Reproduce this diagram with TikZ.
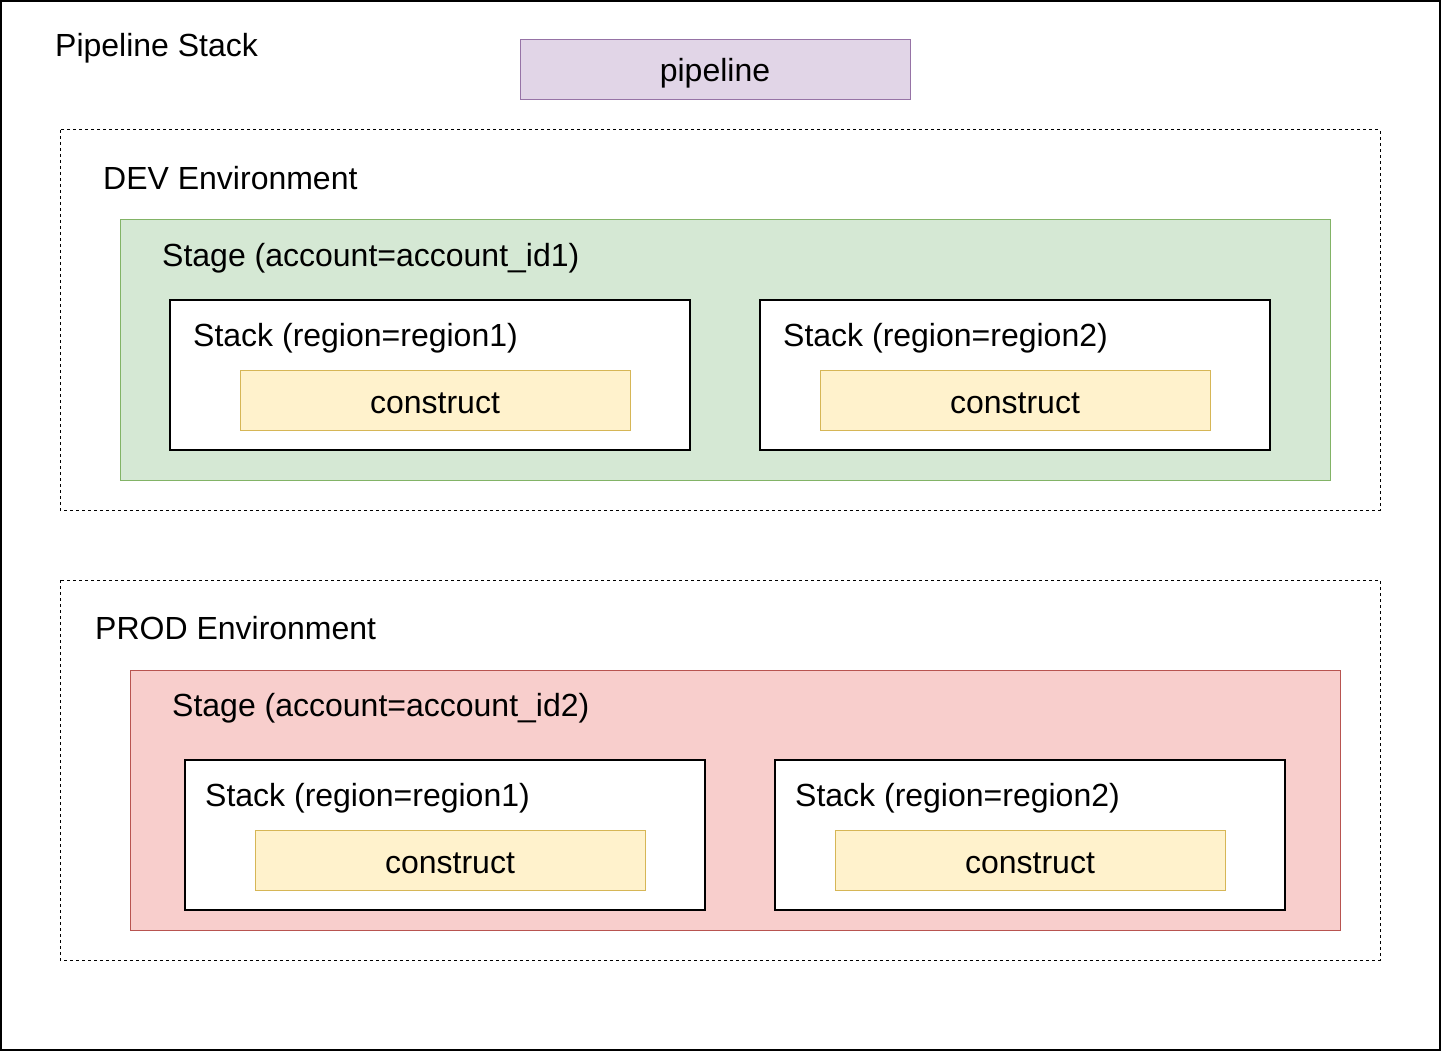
\documentclass[tikz,border=0pt]{standalone}
\usepackage{fontspec}
\setmainfont{Liberation Sans}
\definecolor{pfill}{HTML}{E1D5E7}\definecolor{pdraw}{HTML}{9673A6}
\definecolor{gfill}{HTML}{D5E8D4}\definecolor{gdraw}{HTML}{82B366}
\definecolor{rfill}{HTML}{F8CECC}\definecolor{rdraw}{HTML}{B85450}
\definecolor{yfill}{HTML}{FFF2CC}\definecolor{ydraw}{HTML}{D6B656}
\begin{document}
\begin{tikzpicture}[x=1pt,y=-1pt,
  lbl/.style={anchor=west,inner sep=0pt,font=\fontsize{32}{37}\selectfont},
  envbox/.style={draw=black,dash pattern=on 3pt off 3pt,line width=1pt},
  stackbox/.style={draw=black,fill=white,line width=1.2pt},
  constructbox/.style={draw=ydraw,fill=yfill,line width=1pt},
]
\useasboundingbox (0,0) rectangle (1441,1051);
\draw[line width=1.6pt] (1,1) rectangle (1440,1050);
\node[lbl] (title) at (55,48) {Pipeline Stack};
\draw[draw=pdraw,fill=pfill,line width=1pt] (520,40) rectangle (910,100);
\node[lbl,anchor=center] (pipe) at (715,73) {pipeline};
% DEV
\draw[envbox] (60,130) rectangle (1380,510);
\node[lbl] (dev) at (103,178) {DEV Environment};
\draw[draw=gdraw,fill=gfill,line width=1pt] (120,220) rectangle (1330,480);
\node[lbl] (s1) at (162,258) {Stage (account=account\_id1)};
\draw[stackbox] (170,300) rectangle (690,450);
\node[lbl] (d1) at (193,338) {Stack (region=region1)};
\draw[constructbox] (240,370) rectangle (630,430);
\node[lbl,anchor=center] (c1) at (435,403) {construct};
\draw[stackbox] (760,300) rectangle (1270,450);
\node[lbl] (d2) at (783,338) {Stack (region=region2)};
\draw[constructbox] (820,370) rectangle (1210,430);
\node[lbl,anchor=center] (c2) at (1015,403) {construct};
% PROD
\draw[envbox] (60,580) rectangle (1380,960);
\node[lbl] (prod) at (95,628) {PROD Environment};
\draw[draw=rdraw,fill=rfill,line width=1pt] (130,670) rectangle (1340,930);
\node[lbl] (s2) at (172,708) {Stage (account=account\_id2)};
\draw[stackbox] (185,760) rectangle (705,910);
\node[lbl] (p1) at (205,798) {Stack (region=region1)};
\draw[constructbox] (255,830) rectangle (645,890);
\node[lbl,anchor=center] (c3) at (450,863) {construct};
\draw[stackbox] (775,760) rectangle (1285,910);
\node[lbl] (p2) at (795,798) {Stack (region=region2)};
\draw[constructbox] (835,830) rectangle (1225,890);
\node[lbl,anchor=center] (c4) at (1030,863) {construct};
\end{tikzpicture}
\end{document}
